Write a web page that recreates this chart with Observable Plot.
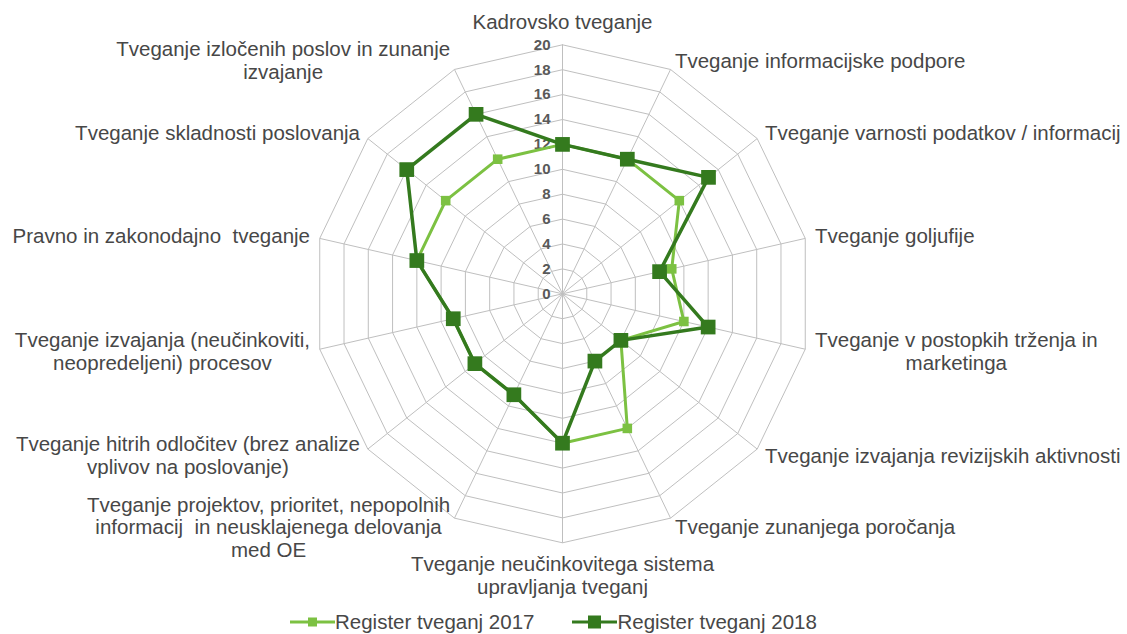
<!DOCTYPE html>
<html><head><meta charset="utf-8">
<script src="https://cdn.jsdelivr.net/npm/d3@7"></script>
<script src="https://cdn.jsdelivr.net/npm/@observablehq/plot@0.6"></script>
<style>
body{margin:0;background:#fff;overflow:hidden;font-family:"Liberation Sans",Arial,sans-serif;}
#chart svg text{white-space:pre;}
#legend{display:flex;align-items:center;height:30px;margin-top:3px;padding-left:290px;font-size:20.5px;color:#474747;}
.item{display:flex;align-items:center;margin-right:38px;}
.item svg{display:block;}
</style></head><body><div id="chart"></div><div id="legend"></div>
<script>
const categories = [
  "Kadrovsko tveganje",
  "Tveganje informacijske podpore",
  "Tveganje varnosti podatkov / informacij",
  "Tveganje goljufije",
  "Tveganje v postopkih trženja in\nmarketinga",
  "Tveganje izvajanja revizijskih aktivnosti",
  "Tveganje zunanjega poročanja",
  "Tveganje neučinkovitega sistema\nupravljanja tveganj",
  "Tveganje projektov, prioritet, nepopolnih\ninformacij  in neusklajenega delovanja\nmed OE",
  "Tveganje hitrih odločitev (brez analize\nvplivov na poslovanje)",
  "Tveganje izvajanja (neučinkoviti,\nneopredeljeni) procesov",
  "Pravno in zakonodajno  tveganje",
  "Tveganje skladnosti poslovanja",
  "Tveganje izločenih poslov in zunanje\nizvajanje"
];
const seriesNames = ["Register tveganj 2017", "Register tveganj 2018"];
const values2017 = [12, 12, 12, 9, 10, 6, 12, 12, 9, 9, 9, 12, 12, 12];
const values2018 = [12, 12, 15, 8, 12, 6, 6, 12, 9, 9, 9, 12, 16, 16];
const ticks = [0, 2, 4, 6, 8, 10, 12, 14, 16, 18, 20];

const colors = {"Register tveganj 2017": "#7cc142", "Register tveganj 2018": "#347a1e"};

const W = 1127, H = 604;
const cx = 562, cy = 293.3, k = 12.45; // px per unit
const maxV = 20;
const n = categories.length;
const ang = i => i * 2 * Math.PI / n;
const px = (r, i) => r * Math.sin(ang(i));
const py = (r, i) => r * Math.cos(ang(i));

// grid
const rings = [];
ticks.filter(t => t > 0).forEach(t => {
  for (let i = 0; i <= n; i++) rings.push({t, x: px(t, i % n), y: py(t, i % n)});
});
const spokes = categories.map((c, i) => ({x2: px(maxV, i), y2: py(maxV, i)}));

// series
function seriesPts(name, vals) {
  return vals.map((v, i) => ({name, v, x: px(v, i), y: py(v, i)}));
}
const s17 = seriesPts(seriesNames[0], values2017);
const s18 = seriesPts(seriesNames[1], values2018);
const closed = pts => pts.concat([pts[0]]);

// labels
const fontSize = 20.5, lineH = 1.1;
const ctx = document.createElement("canvas").getContext("2d");
ctx.font = `${fontSize}px "Liberation Sans", Arial, sans-serif`;
const gap = 10;
const labels = categories.map((c, i) => {
  const lines = c.split("\n");
  const w = Math.max(...lines.map(l => ctx.measureText(l).width));
  const h = lines.length * fontSize * lineH;
  const s = Math.sin(ang(i)), co = Math.cos(ang(i));
  const ar = maxV + gap / k;
  let x = ar * s, y = ar * co;
  if (s > 0.05) x += w / 2 / k;
  else if (s < -0.05) x -= w / 2 / k;
  else if (co > 0) y += (h / 2 + 2) / k;
  else y -= h / 2 / k;
  return {text: c, x, y};
});

const xDomain = [-cx / k, (W - cx) / k];
const yDomain = [(cy - H) / k, cy / k];

const chart = Plot.plot({
  width: W, height: H, margin: 0,
  x: {domain: xDomain, axis: null},
  y: {domain: yDomain, axis: null},
  style: {fontFamily: '"Liberation Sans", Arial, sans-serif', background: "#fff"},
  marks: [
    Plot.line(rings, {x: "x", y: "y", z: "t", stroke: "#bfbfbf", strokeWidth: 1}),
    Plot.link(spokes, {x1: 0, y1: 0, x2: "x2", y2: "y2", stroke: "#bfbfbf", strokeWidth: 1}),
    Plot.text(ticks, {x: 0, y: d => d, text: d => String(d), textAnchor: "end", dx: -12,
      fontSize: 15, fontWeight: "bold", fill: "#595959"}),
    Plot.line(closed(s17), {x: "x", y: "y", stroke: colors[seriesNames[0]], strokeWidth: 3}),
    Plot.dot(s17, {x: "x", y: "y", symbol: "square", r: 5.4, fill: colors[seriesNames[0]]}),
    Plot.line(closed(s18), {x: "x", y: "y", stroke: colors[seriesNames[1]], strokeWidth: 3.5}),
    Plot.dot(s18, {x: "x", y: "y", symbol: "square", r: 8.3, fill: colors[seriesNames[1]]}),
    Plot.text(labels, {x: "x", y: "y", text: "text", textAnchor: "middle", lineAnchor: "middle",
      lineHeight: lineH, fontSize: fontSize, fill: "#474747"})
  ]
});
document.getElementById("chart").appendChild(chart);

// legend
const leg = document.getElementById("legend");
seriesNames.forEach((name, j) => {
  const item = document.createElement("div");
  item.className = "item";
  const sz = j === 0 ? 9 : 13;
  item.innerHTML = `<svg width="45" height="20"><line x1="0" x2="45" y1="10" y2="10" stroke="${colors[name]}" stroke-width="3"/><rect x="${22.5 - sz/2}" y="${10 - sz/2}" width="${sz}" height="${sz}" fill="${colors[name]}"/></svg><span>${name}</span>`;
  leg.appendChild(item);
});
</script>
</body></html>
